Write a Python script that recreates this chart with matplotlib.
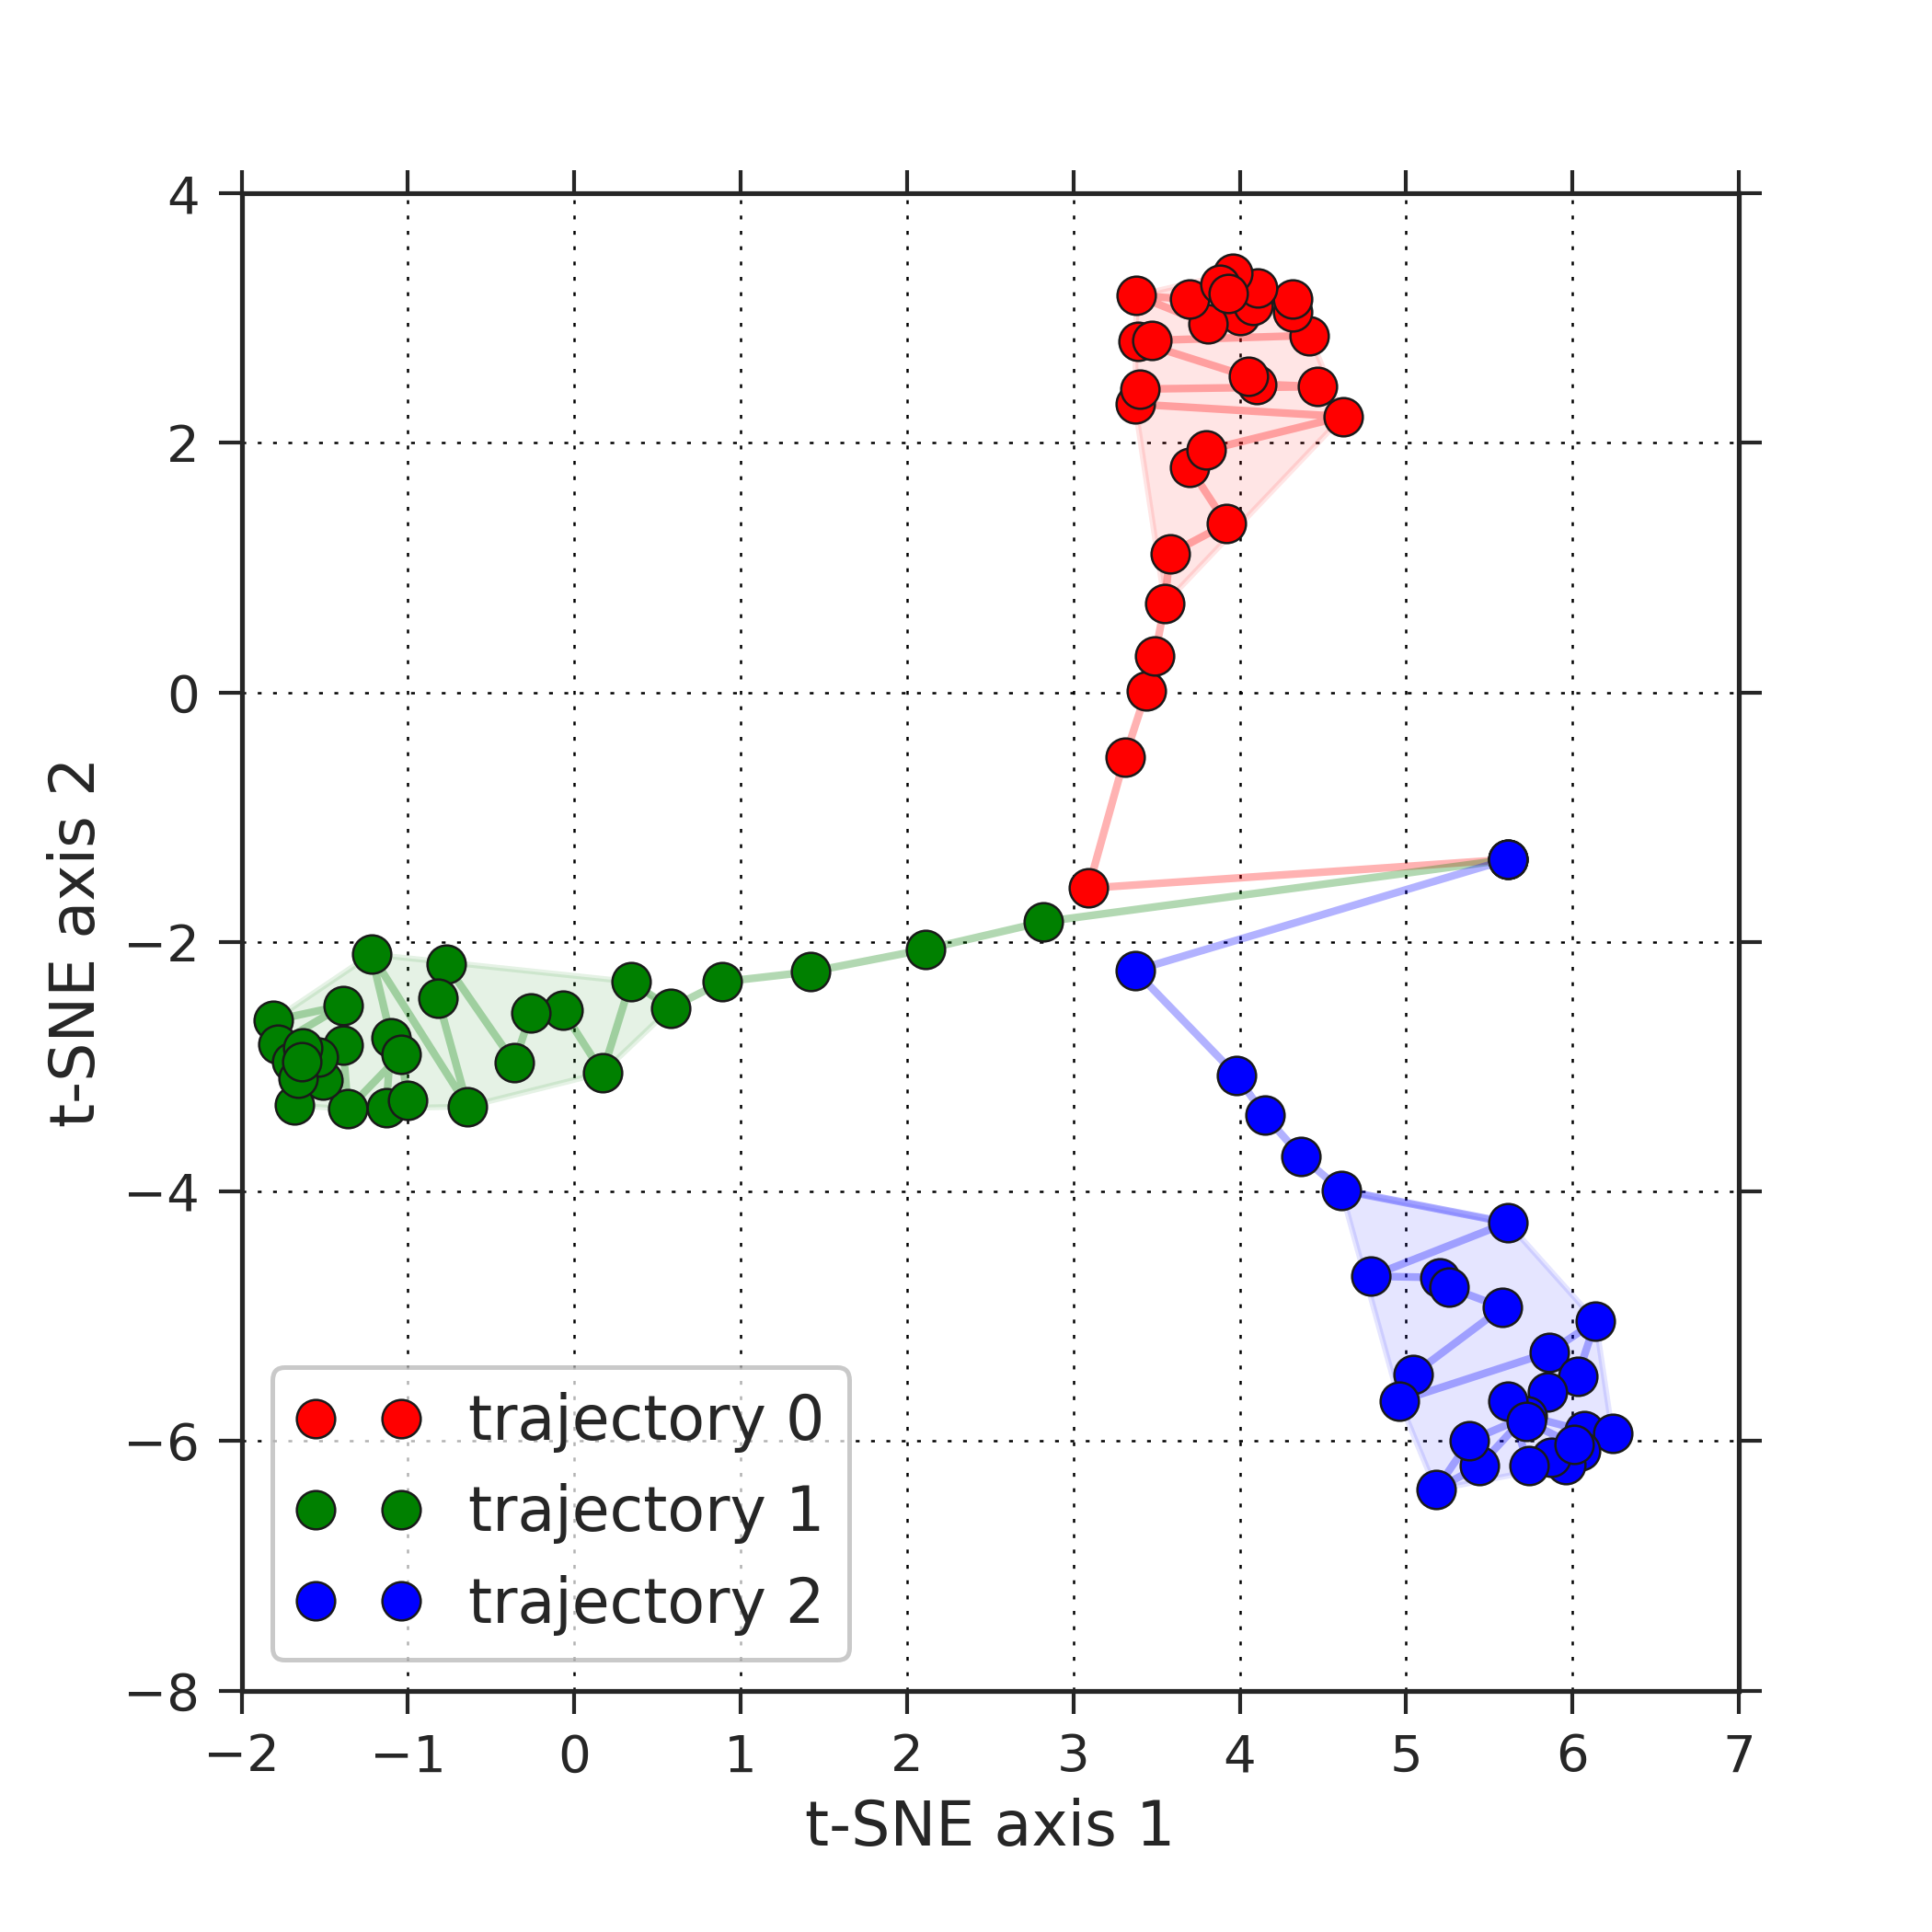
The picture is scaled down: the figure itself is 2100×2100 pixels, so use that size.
import matplotlib
matplotlib.use('Agg')
import matplotlib.pyplot as plt
from matplotlib.patches import Polygon
import numpy as np

# t-SNE coordinates of the three trajectories (all start from the same point)
traj0_x = [5.61, 3.09, 3.31, 3.44, 3.49, 3.55, 3.58, 3.92, 3.70, 3.80, 4.62, 3.37, 3.40, 4.47, 4.10,
           4.05, 3.39, 3.47, 4.42, 4.32, 4.32, 4.00, 3.81, 3.38, 3.70, 4.08, 4.11, 3.96, 3.88, 3.93]
traj0_y = [-1.34, -1.57, -0.52, 0.01, 0.29, 0.71, 1.11, 1.35, 1.80, 1.94, 2.21, 2.31, 2.43, 2.45, 2.47,
           2.53, 2.81, 2.82, 2.86, 3.05, 3.15, 3.02, 2.95, 3.18, 3.15, 3.10, 3.24, 3.36, 3.27, 3.20]

traj1_x = [5.61, 2.82, 2.11, 1.42, 0.89, 0.58, 0.34, 0.17, -0.07, -0.26, -0.36, -0.77, -0.82, -0.64, -1.22,
           -1.10, -1.13, -1.00, -1.04, -1.36, -1.39, -1.51, -1.68, -1.54, -1.81, -1.39, -1.78, -1.70,
           -1.63, -1.66, -1.64]
traj1_y = [-1.34, -1.84, -2.06, -2.24, -2.32, -2.53, -2.32, -3.05, -2.55, -2.57, -2.97, -2.18, -2.45, -3.32,
           -2.10, -2.77, -3.33, -3.27, -2.90, -3.34, -2.83, -3.11, -3.31, -2.92, -2.63, -2.51, -2.82,
           -2.96, -2.85, -3.09, -2.96]

traj2_x = [5.61, 3.37, 3.98, 4.15, 4.37, 4.61, 5.61, 4.79, 5.20, 5.26, 5.58, 5.04, 4.96, 5.86, 6.14,
           6.03, 5.85, 5.44, 5.18, 5.38, 5.73, 6.07, 6.24, 6.05, 5.96, 5.87, 5.74, 5.61, 5.72, 6.01]
traj2_y = [-1.34, -2.23, -3.07, -3.39, -3.72, -3.99, -4.25, -4.68, -4.69, -4.77, -4.93, -5.47, -5.68, -5.29,
           -5.04, -5.48, -5.61, -6.20, -6.39, -6.00, -5.80, -5.92, -5.94, -6.08, -6.19, -6.13, -6.20, -5.68,
           -5.84, -6.03]

# index from which the points of each trajectory belong to its end cluster
cluster_start = [5, 5, 5]

labels = ['trajectory 0', 'trajectory 1', 'trajectory 2']
colors = ['r', (0, 0.5, 0), 'b']
trajs = [(traj0_x, traj0_y), (traj1_x, traj1_y), (traj2_x, traj2_y)]

x_ticks = [-2, -1, 0, 1, 2, 3, 4, 5, 6, 7]
y_ticks = [-8, -6, -4, -2, 0, 2, 4]


def convex_hull(pts):
    # monotone chain
    pts = sorted(set(map(tuple, pts)))
    def cross(o, a, b):
        return (a[0] - o[0]) * (b[1] - o[1]) - (a[1] - o[1]) * (b[0] - o[0])
    lower, upper = [], []
    for p in pts:
        while len(lower) >= 2 and cross(lower[-2], lower[-1], p) <= 0:
            lower.pop()
        lower.append(p)
    for p in reversed(pts):
        while len(upper) >= 2 and cross(upper[-2], upper[-1], p) <= 0:
            upper.pop()
        upper.append(p)
    return np.array(lower[:-1] + upper[:-1])


plt.rcParams['font.family'] = ['DejaVu Sans']
plt.rcParams['text.color'] = '#262626'
plt.rcParams['axes.labelcolor'] = '#262626'
plt.rcParams['xtick.color'] = '#262626'
plt.rcParams['ytick.color'] = '#262626'
plt.rcParams['lines.scale_dashes'] = False

fig = plt.figure(figsize=(7, 7), dpi=300)
ax = fig.add_axes([0.125, 0.125, 0.775, 0.775])

for (xs, ys), c, k in zip(trajs, colors, cluster_start):
    pts = np.column_stack([xs, ys])[k:]
    hull = convex_hull(pts)
    ax.add_patch(Polygon(hull, closed=True, facecolor=c, edgecolor=c,
                         alpha=0.1, lw=1.5, zorder=1))

for (xs, ys), c in zip(trajs, colors):
    ax.plot(xs, ys, '-', color=c, alpha=0.3, lw=2, zorder=2)

for (xs, ys), c, lab in zip(trajs, colors, labels):
    ax.plot(xs, ys, 'o', color=c, markersize=10, markeredgecolor='#1a1a1a',
            markeredgewidth=0.6, label=lab, zorder=3)

ax.set_xlim(-2, 7)
ax.set_ylim(-8, 4)
ax.set_xticks(x_ticks)
ax.set_yticks(y_ticks)
ax.tick_params(axis='both', which='both', direction='out', length=6, width=1,
               labelsize=13.5, top=True, right=True, pad=5)
for sp in ax.spines.values():
    sp.set_color('#262626')
    sp.set_linewidth(1.25)
ax.grid(True, color='k', linestyle=(0, (1, 3)), linewidth=0.6)
ax.set_axisbelow(True)

ax.set_xlabel('t-SNE axis 1', fontsize=16)
ax.set_ylabel('t-SNE axis 2', fontsize=16)

leg = ax.legend(loc='lower left', numpoints=2, fontsize=16, fancybox=True, framealpha=0.7)
leg.get_frame().set_edgecolor('0.7')
leg.get_frame().set_linewidth(1.2)

fig.savefig('out.png', dpi=300)
